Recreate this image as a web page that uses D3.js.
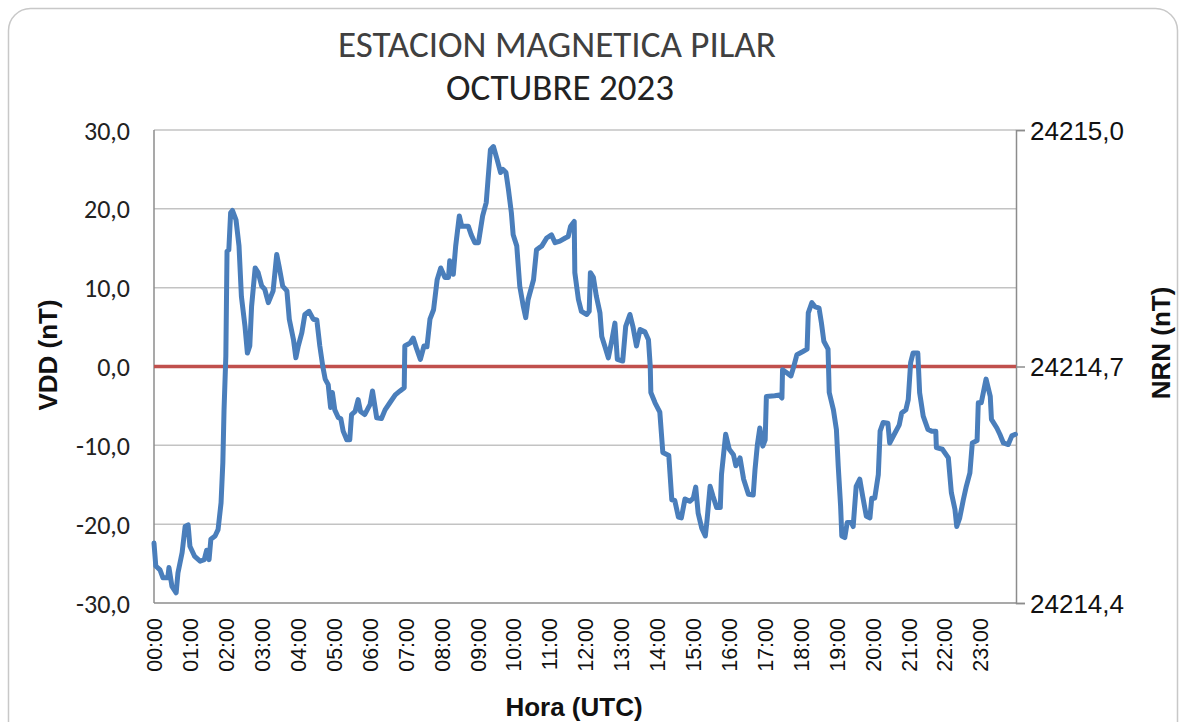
<!DOCTYPE html>
<html>
<head>
<meta charset="utf-8">
<script src="https://cdn.jsdelivr.net/npm/d3@7"></script>
<style>
  html, body { margin: 0; padding: 0; background: #ffffff; }
  svg { display: block; }
</style>
</head>
<body>
<svg id="chart" width="1186" height="722"></svg>
<script>
// ---- Data ----
const titleLines = ["ESTACION MAGNETICA PILAR", "OCTUBRE 2023"];
const hourLabels = ["00:00","01:00","02:00","03:00","04:00","05:00","06:00","07:00","08:00","09:00","10:00","11:00",
                    "12:00","13:00","14:00","15:00","16:00","17:00","18:00","19:00","20:00","21:00","22:00","23:00"];
const leftTicks = [-30, -20, -10, 0, 10, 20, 30];
const rightTicks = [24214.4, 24214.7, 24215.0];
// minute of day (UTC)
const minutes = [0,3,10,15,23,25,30,37,40,47,52,57,60,68,77,84,88,92,95,102,107,112,115,117,120,122,125,128,131,137,142,146,152,156,160,163,169,174,180,185,191,199,205,209,215,222,226,233,237,241,247,252,259,266,272,277,282,286,291,295,298,302,308,312,316,322,327,330,336,341,345,352,361,365,372,380,386,394,403,411,418,419,428,433,439,445,451,456,461,467,473,479,486,492,494,500,504,510,514,525,530,536,542,549,555,558,562,567,573,579,583,588,592,597,600,606,611,617,621,625,634,639,648,656,664,670,678,687,692,696,702,703,709,714,723,727,729,734,739,745,748,753,759,765,770,774,783,788,795,800,806,812,820,826,829,830,837,845,850,860,865,870,876,881,887,895,901,905,909,915,921,924,929,934,940,946,948,955,961,968,972,979,985,993,1001,1004,1008,1012,1017,1021,1023,1037,1045,1049,1050,1057,1064,1068,1074,1084,1091,1093,1099,1104,1111,1115,1119,1126,1128,1135,1140,1143,1147,1149,1154,1158,1165,1168,1173,1179,1184,1190,1196,1199,1204,1210,1213,1218,1226,1229,1238,1245,1249,1256,1260,1264,1268,1276,1279,1285,1293,1299,1306,1307,1317,1327,1332,1338,1341,1346,1352,1357,1363,1367,1375,1377,1382,1390,1397,1399,1408,1413,1419,1427,1433,1439];
// VDD (nT)
const vdd = [-22.4,-25.3,-25.8,-26.8,-26.8,-25.5,-27.9,-28.7,-26.2,-23.6,-20.3,-20.1,-22.8,-24.1,-24.7,-24.5,-23.3,-24.5,-21.9,-21.5,-20.7,-17.3,-12.2,-5.5,1.3,14.6,14.8,19.5,19.8,18.6,15.3,8.9,5.1,1.7,2.6,7.6,12.5,11.9,10.2,9.8,8.1,9.6,14.2,12.7,10.2,9.6,6.0,3.4,1.1,2.6,4.3,6.6,7.0,6.0,5.9,2.6,0.0,-1.6,-2.3,-5.2,-3.3,-5.5,-6.5,-6.6,-8.2,-9.3,-9.3,-6.1,-5.7,-4.2,-5.7,-6.1,-4.8,-3.1,-6.5,-6.6,-5.5,-4.6,-3.6,-3.1,-2.7,2.6,3.0,3.6,2.2,0.9,2.6,2.5,6.0,7.2,11.0,12.5,11.3,11.3,13.4,11.7,15.3,19.1,17.8,17.8,16.7,15.7,15.7,19.1,20.8,23.7,27.5,27.9,26.3,24.6,25.0,24.6,22.5,19.5,16.7,15.3,10.2,7.6,6.2,8.5,11.0,14.8,15.3,16.3,16.7,15.7,15.9,16.3,16.5,17.8,18.4,11.9,8.5,7.0,6.6,7.0,11.9,11.3,8.9,6.8,3.8,2.6,1.1,3.4,5.5,0.9,0.7,5.1,6.6,5.1,2.6,4.7,4.4,3.4,0.0,-3.3,-4.6,-5.8,-10.9,-11.3,-16.9,-17.0,-19.1,-19.2,-16.8,-17.1,-16.7,-15.3,-18.6,-20.5,-21.5,-19.4,-15.2,-16.5,-17.9,-17.9,-13.7,-8.6,-10.5,-11.2,-12.6,-11.6,-14.3,-16.2,-16.3,-13.1,-9.9,-7.8,-10.1,-9.3,-3.8,-3.7,-3.6,-4.0,-0.4,-0.8,-1.2,-0.2,1.5,1.9,2.2,6.8,8.1,7.6,7.4,5.5,3.2,2.2,-3.3,-5.5,-8.0,-12.6,-17.7,-21.5,-21.7,-19.8,-19.8,-20.3,-15.2,-14.3,-16.5,-19.0,-19.2,-16.7,-16.7,-13.7,-8.2,-7.1,-7.2,-9.7,-8.4,-7.4,-5.9,-5.5,-4.2,0.5,1.7,1.7,-3.3,-6.3,-8.0,-8.2,-8.2,-10.3,-10.5,-11.6,-16.0,-18.1,-20.3,-19.2,-16.9,-15.2,-13.5,-9.7,-9.4,-4.6,-4.6,-1.6,-3.8,-6.7,-7.8,-8.6,-9.7,-9.9,-8.8,-8.6];
// NRN (nT) reference level, on the right axis
const nrnMinutes = [0, 1440];
const nrnValues = [24214.7, 24214.7];

// ---- Layout ----
const svg = d3.select("#chart");
const plot = { left: 154, right: 1016, top: 130, bottom: 603 };
const calibri = "Carlito, Calibri, Lato, 'Open Sans', sans-serif";
const arial = "'Liberation Sans', Arial, Helvetica, sans-serif";
const fmt = d => d3.format(".1f")(d).replace(".", ",").replace("\u2212", "-");

// frame
svg.append("rect").attr("x", 8.5).attr("y", 8.5).attr("width", 1169).attr("height", 740)
  .attr("rx", 22).attr("ry", 22).attr("fill", "#ffffff").attr("stroke", "#c8c8c8").attr("stroke-width", 1.5);

const x = d3.scaleLinear().domain([0, 1440]).range([plot.left, plot.right]);
const y = d3.scaleLinear().domain([-30, 30]).range([plot.bottom, plot.top]);
const y2 = d3.scaleLinear().domain([24214.4, 24215.0]).range([plot.bottom, plot.top]);

function fitWidth(sel, target) {
  const w = sel.node().getComputedTextLength();
  const fs = parseFloat(sel.attr("font-size"));
  if (w > 0) sel.attr("font-size", (fs * target / w).toFixed(2));
}

// gridlines
svg.append("g").selectAll("line").data(leftTicks.filter(d => d !== -30)).join("line")
  .attr("x1", plot.left).attr("x2", plot.right)
  .attr("y1", d => y(d)).attr("y2", d => y(d))
  .attr("stroke", "#c3c3c3").attr("stroke-width", 1.5);

// axis lines
const axisColor = "#8c8c8c";
svg.append("line").attr("x1", plot.left).attr("x2", plot.left).attr("y1", plot.top).attr("y2", plot.bottom)
  .attr("stroke", axisColor).attr("stroke-width", 1.5);
svg.append("line").attr("x1", plot.left).attr("x2", plot.right).attr("y1", plot.bottom).attr("y2", plot.bottom)
  .attr("stroke", axisColor).attr("stroke-width", 1.5);

// right axis
const rightAxis = d3.axisRight(y2).tickValues(rightTicks).tickSize(9).tickPadding(6).tickFormat(fmt);
const gR = svg.append("g").attr("transform", `translate(${plot.right},0)`).call(rightAxis);
gR.select(".domain").attr("stroke", axisColor).attr("stroke-width", 1.5);
gR.selectAll(".tick line").attr("stroke", axisColor).attr("stroke-width", 1.5);
gR.selectAll(".tick text").attr("font-family", arial).attr("font-size", 26).attr("fill", "#111")
  .attr("x", 14).attr("dy", "0.36em");

// left axis (labels only)
const leftAxis = d3.axisLeft(y).tickValues(leftTicks).tickSize(0).tickPadding(24).tickFormat(fmt);
const gL = svg.append("g").attr("transform", `translate(${plot.left},0)`).call(leftAxis);
gL.select(".domain").remove();
gL.selectAll(".tick text").attr("font-family", calibri).attr("font-size", 26).attr("fill", "#222")
  .attr("dy", "0.35em");

// x axis labels (every hour)
const hourMin = hourLabels.map((d, i) => i * 60);
const xAxis = d3.axisBottom(x).tickValues(hourMin).tickSize(0).tickFormat((d, i) => hourLabels[i]);
const gX = svg.append("g").attr("transform", `translate(0,${plot.bottom})`).call(xAxis);
gX.select(".domain").remove();
gX.selectAll(".tick text")
  .attr("font-family", arial).attr("font-size", 21.5).attr("fill", "#111")
  .attr("text-anchor", "end")
  .attr("transform", "rotate(-90)")
  .attr("x", -15).attr("y", 0).attr("dy", "0.36em");

// red NRN reference line
svg.append("path").datum(nrnValues)
  .attr("d", d3.line().x((d, i) => x(nrnMinutes[i])).y(d => y2(d)))
  .attr("fill", "none").attr("stroke", "#c0504d").attr("stroke-width", 3.5);

// VDD line
const line = d3.line().x((d, i) => x(minutes[i])).y(d => y(d));
svg.append("path").datum(vdd).attr("d", line)
  .attr("fill", "none").attr("stroke", "#4a7ebb").attr("stroke-width", 5)
  .attr("stroke-linejoin", "round").attr("stroke-linecap", "round");

// title
const t1 = svg.append("text").attr("x", 557).attr("y", 57).attr("text-anchor", "middle")
  .attr("font-family", calibri).attr("font-size", 36).attr("fill", "#404040").text(titleLines[0]);
fitWidth(t1, 438);
const t2 = svg.append("text").attr("x", 560).attr("y", 100).attr("text-anchor", "middle")
  .attr("font-family", calibri).attr("font-size", 36).attr("fill", "#222").text(titleLines[1]);
fitWidth(t2, 228);

// axis titles
svg.append("text").attr("transform", "translate(57,355) rotate(-90)").attr("text-anchor", "middle")
  .attr("font-family", arial).attr("font-weight", "bold").attr("font-size", 26).attr("fill", "#111")
  .text("VDD (nT)");
svg.append("text").attr("transform", "translate(1170,343) rotate(-90)").attr("text-anchor", "middle")
  .attr("font-family", arial).attr("font-weight", "bold").attr("font-size", 26).attr("fill", "#111")
  .text("NRN (nT)");
svg.append("text").attr("x", 574).attr("y", 716).attr("text-anchor", "middle")
  .attr("font-family", arial).attr("font-weight", "bold").attr("font-size", 26).attr("fill", "#111")
  .text("Hora (UTC)");
</script>
</body>
</html>
